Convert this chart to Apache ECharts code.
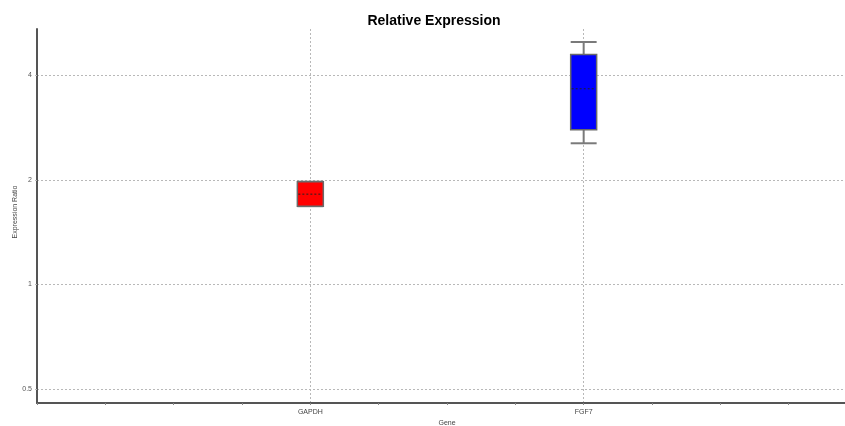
<!DOCTYPE html>
<html>
<head>
<meta charset="utf-8">
<title>Relative Expression</title>
<script src="https://cdn.jsdelivr.net/npm/echarts@6/dist/echarts.min.js"></script>
<style>
  html, body { margin: 0; padding: 0; background: #fff; }
  #chart { width: 845px; height: 426px; }
</style>
</head>
<body>
<div id="chart"></div>
<script>
// Gene axis slots: ticks every slot, genes sit on their named slot
const xTickLabels = ['', '', '', '', 'GAPDH', '', '', '', 'FGF7', '', '', '', ''];
const genes = ['GAPDH', 'FGF7'];
// Box statistics per gene: [min, Q1, median, Q3, max]
const gapdhStats = [1.68, 1.68, 1.82, 1.977, 1.977];
const fgf7Stats = [2.55, 2.79, 3.66, 4.59, 4.99];
const boxColors = ['#ff0000', '#0000ff'];
const yTicks = [0.5, 1, 2, 4];

const statsByGene = { GAPDH: gapdhStats, FGF7: fgf7Stats };
const boxData = genes.map(function (g, i) {
  return {
    value: [xTickLabels.indexOf(g)].concat(statsByGene[g]),
    itemStyle: { color: boxColors[i] }
  };
});

const FONT = 'Liberation Sans, Arial, sans-serif';
const gridDots = { color: '#b8b8b8', type: [2, 2], width: 1 };
const chart = echarts.init(document.getElementById('chart'));

chart.setOption({
  animation: false,
  backgroundColor: '#ffffff',
  title: {
    text: 'Relative Expression',
    left: 429,
    textAlign: 'center',
    top: 9,
    textStyle: { fontFamily: FONT, fontSize: 14, fontWeight: 'bold', color: '#000' }
  },
  grid: {
    left: 37, right: -12, top: 29, bottom: 23,
    containLabel: false,
    outerBoundsMode: 'none'
  },
  xAxis: {
    type: 'category',
    data: xTickLabels,
    boundaryGap: false,
    name: 'Gene',
    nameLocation: 'middle',
    nameGap: 17,
    nameMoveOverlap: false,
    nameTextStyle: { fontFamily: FONT, fontSize: 7, color: '#444' },
    axisLine: { lineStyle: { color: '#555', width: 2 } },
    axisTick: { show: true, interval: 0, length: 2, lineStyle: { color: '#888' } },
    axisLabel: { interval: 0, fontFamily: FONT, fontSize: 7, color: '#444', margin: 6 },
    splitLine: {
      show: true,
      interval: function (idx, val) { return val !== ''; },
      lineStyle: gridDots
    }
  },
  yAxis: {
    type: 'log',
    logBase: 2,
    min: 0.4557,
    max: 5.44,
    name: 'Expression Ratio',
    nameLocation: 'middle',
    nameGap: 18,
    nameMoveOverlap: false,
    nameTextStyle: { fontFamily: FONT, fontSize: 7, color: '#444', padding: [0, 0, 0, 8] },
    axisLine: { show: true, lineStyle: { color: '#555', width: 2 } },
    axisTick: { show: true, length: 3, lineStyle: gridDots },
    axisLabel: {
      fontFamily: FONT, fontSize: 7, color: '#555', margin: 5,
      showMinLabel: false, showMaxLabel: false,
      formatter: function (v) {
        const r = yTicks.find(function (t) { return Math.abs(t - v) < 1e-6; });
        return r === undefined ? '' : String(r);
      }
    },
    splitLine: {
      show: true,
      showMinLine: false,
      showMaxLine: false,
      lineStyle: gridDots
    }
  },
  series: [{
    type: 'custom',
    data: boxData,
    encode: { x: 0, y: [1, 2, 3, 4, 5] },
    renderItem: function (params, api) {
      const xi = api.value(0);
      const pMin = api.coord([xi, api.value(1)]);
      const pQ1 = api.coord([xi, api.value(2)]);
      const pMed = api.coord([xi, api.value(3)]);
      const pQ3 = api.coord([xi, api.value(4)]);
      const pMax = api.coord([xi, api.value(5)]);
      const half = api.size([1, 0])[0] * 0.19;
      const cx = pMin[0];
      const fill = api.visual('color');
      const whisker = { stroke: '#7a7a7a', lineWidth: 2 };
      return {
        type: 'group',
        children: [
          { type: 'line', shape: { x1: cx, y1: pQ3[1], x2: cx, y2: pMax[1] }, style: whisker },
          { type: 'line', shape: { x1: cx, y1: pQ1[1], x2: cx, y2: pMin[1] }, style: whisker },
          { type: 'line', shape: { x1: cx - half, y1: pMax[1], x2: cx + half, y2: pMax[1] }, style: whisker },
          { type: 'line', shape: { x1: cx - half, y1: pMin[1], x2: cx + half, y2: pMin[1] }, style: whisker },
          {
            type: 'rect',
            shape: { x: cx - half, y: pQ3[1], width: half * 2, height: pQ1[1] - pQ3[1] },
            style: { fill: fill, stroke: '#6a6a6a', lineWidth: 1.5 }
          },
          {
            type: 'line',
            shape: { x1: cx - half + 1, y1: pMed[1], x2: cx + half - 1, y2: pMed[1] },
            style: { stroke: '#222', lineWidth: 1, lineDash: [2, 2] }
          }
        ]
      };
    }
  }]
});
</script>
</body>
</html>
